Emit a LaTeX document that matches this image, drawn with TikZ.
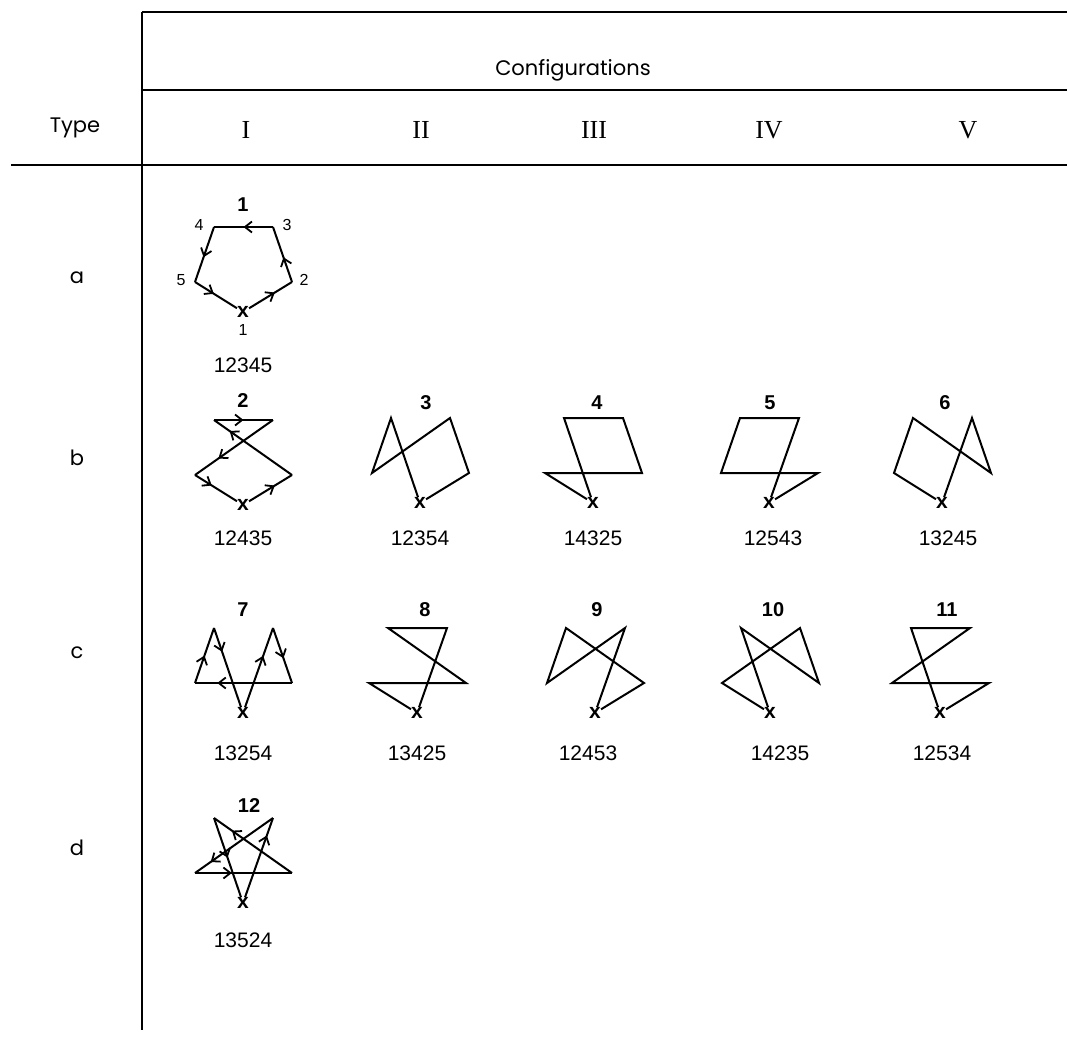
\documentclass[tikz,border=0pt]{standalone}
\usepackage{fontspec}
\setmainfont{Liberation Sans}
\newfontfamily\gothfont{Poppins}
\newfontfamily\romfont{Liberation Serif}
\usetikzlibrary{arrows.meta,decorations.markings}

\newcommand\pentcoords[3]{%
  \node[xmark] (#1-1) at (#2,#3) {x};
  \coordinate (#1-2) at (#2+49,#3-30);
  \coordinate (#1-3) at (#2+30,#3-85);
  \coordinate (#1-4) at (#2-29,#3-85);
  \coordinate (#1-5) at (#2-48,#3-30);
}
\newcommand\pentpath[5]{%
  \draw[fig] (#1-1) -- (#1-#2) -- (#1-#3) -- (#1-#4) -- (#1-#5) -- (#1-1);
}

\begin{document}
\begin{tikzpicture}[x=1pt,y=-1pt,
  rule/.style={line width=2pt},
  fig/.style={line width=2pt, line join=miter},
  codelbl/.style={font=\fontsize{21}{21}\selectfont, inner sep=0pt},
  numlbl/.style={font=\bfseries\fontsize{20}{20}\selectfont, inner sep=0pt},
  vlbl/.style={font=\fontsize{16}{16}\selectfont, inner sep=0pt},
  xmark/.style={font=\bfseries\fontsize{21}{21}\selectfont, inner sep=0pt},
  typelbl/.style={font=\gothfont\fontsize{21}{21}\selectfont, inner sep=0pt},
  romlbl/.style={font=\romfont\fontsize{26}{26}\selectfont, inner sep=0pt},
  arr/.style={postaction={decorate}, decoration={markings,
     mark=at position #1 with {\arrow{Straight Barb[length=7pt,width=11pt,line width=1.8pt]}}}}
]
\useasboundingbox (0,0) rectangle (1067,1041);

% table rules
\coordinate (vtop) at (142,12);
\coordinate (vbot) at (142,1030);
\coordinate (h1r) at (1067,12);
\coordinate (h2l) at (142,90);
\coordinate (h2r) at (1067,90);
\coordinate (h3l) at (11,165);
\coordinate (h3r) at (1067,165);
\draw[rule] (vtop) -- (vbot);
\draw[rule] (vtop) -- (h1r);
\draw[rule] (h2l) -- (h2r);
\draw[rule] (h3l) -- (h3r);

% headers
\node[typelbl] (conf) at (573,70) {Configurations};
\node[typelbl] (typehdr) at (75,128) {Type};
\node[romlbl] (cI) at (246,130) {I};
\node[romlbl] (cII) at (421,130) {II};
\node[romlbl] (cIII) at (594,130) {III};
\node[romlbl] (cIV) at (769,130) {IV};
\node[romlbl] (cV) at (968,130) {V};
\node[typelbl] (ta) at (77,278) {a};
\node[typelbl] (tb) at (77,458) {b};
\node[typelbl] (tc) at (77,653) {c};
\node[typelbl] (td) at (77,848) {d};

% ---------- figure 1 ----------
\pentcoords{f1}{243}{312}
\draw[fig,arr=0.6] (f1-1) -- (f1-2);
\draw[fig,arr=0.45] (f1-2) -- (f1-3);
\draw[fig,arr=0.5] (f1-3) -- (f1-4);
\draw[fig,arr=0.55] (f1-4) -- (f1-5);
\draw[fig,arr=0.45] (f1-5) -- (f1-1);
\node[numlbl] (n1) at (243,205) {1};
\node[vlbl] (v1-4) at (199,225) {4};
\node[vlbl] (v1-3) at (287,225) {3};
\node[vlbl] (v1-5) at (181,280) {5};
\node[vlbl] (v1-2) at (304,280) {2};
\node[vlbl] (v1-1) at (243,330) {1};
\node[codelbl] (c1) at (243,365) {12345};

% ---------- figure 2 ----------
\pentcoords{f2}{243}{505}
\draw[fig,arr=0.6] (f2-1) -- (f2-2);
\draw[fig,arr=0.8] (f2-2) -- (f2-4);
\draw[fig,arr=0.5] (f2-4) -- (f2-3);
\draw[fig,arr=0.7] (f2-3) -- (f2-5);
\draw[fig,arr=0.4] (f2-5) -- (f2-1);
\node[numlbl] (n2) at (243,401) {2};
\node[codelbl] (c2) at (243,538) {12435};

% ---------- figures 3-6 ----------
\pentcoords{f3}{420}{503}
\pentpath{f3}{2}{3}{5}{4}
\node[numlbl] (n3) at (426,403) {3};
\node[codelbl] (c3) at (420,538) {12354};

\pentcoords{f4}{593}{503}
\pentpath{f4}{4}{3}{2}{5}
\node[numlbl] (n4) at (597,403) {4};
\node[codelbl] (c4) at (593,538) {14325};

\pentcoords{f5}{769}{503}
\pentpath{f5}{2}{5}{4}{3}
\node[numlbl] (n5) at (770,403) {5};
\node[codelbl] (c5) at (773,538) {12543};

\pentcoords{f6}{942}{503}
\pentpath{f6}{3}{2}{4}{5}
\node[numlbl] (n6) at (945,403) {6};
\node[codelbl] (c6) at (948,538) {13245};

% ---------- figure 7 ----------
\pentcoords{f7}{243}{713}
\draw[fig,arr=0.65] (f7-1) -- (f7-3);
\draw[fig,arr=0.55] (f7-3) -- (f7-2);
\draw[fig,arr=0.77] (f7-2) -- (f7-5);
\draw[fig,arr=0.5] (f7-5) -- (f7-4);
\draw[fig,arr=0.3] (f7-4) -- (f7-1);
\node[numlbl] (n7) at (243,610) {7};
\node[codelbl] (c7) at (243,753) {13254};

% ---------- figures 8-11 ----------
\pentcoords{f8}{417}{713}
\pentpath{f8}{3}{4}{2}{5}
\node[numlbl] (n8) at (425,610) {8};
\node[codelbl] (c8) at (417,753) {13425};

\pentcoords{f9}{595}{713}
\pentpath{f9}{2}{4}{5}{3}
\node[numlbl] (n9) at (597,610) {9};
\node[codelbl] (c9) at (588,753) {12453};

\pentcoords{f10}{770}{713}
\pentpath{f10}{4}{2}{3}{5}
\node[numlbl] (n10) at (773,610) {10};
\node[codelbl] (c10) at (780,753) {14235};

\pentcoords{f11}{940}{713}
\pentpath{f11}{2}{5}{3}{4}
\node[numlbl] (n11) at (947,610) {11};
\node[codelbl] (c11) at (942,753) {12534};

% ---------- figure 12 ----------
\pentcoords{f12}{243}{903}
\draw[fig,arr=0.78] (f12-1) -- (f12-3);
\draw[fig,arr=0.8] (f12-3) -- (f12-5);
\draw[fig,arr=0.38] (f12-5) -- (f12-2);
\draw[fig,arr=0.77] (f12-2) -- (f12-4);
\draw[fig,arr=0.5] (f12-4) -- (f12-1);
\node[numlbl] (n12) at (249,806) {12};
\node[codelbl] (c12) at (243,940) {13524};
\end{tikzpicture}
\end{document}
